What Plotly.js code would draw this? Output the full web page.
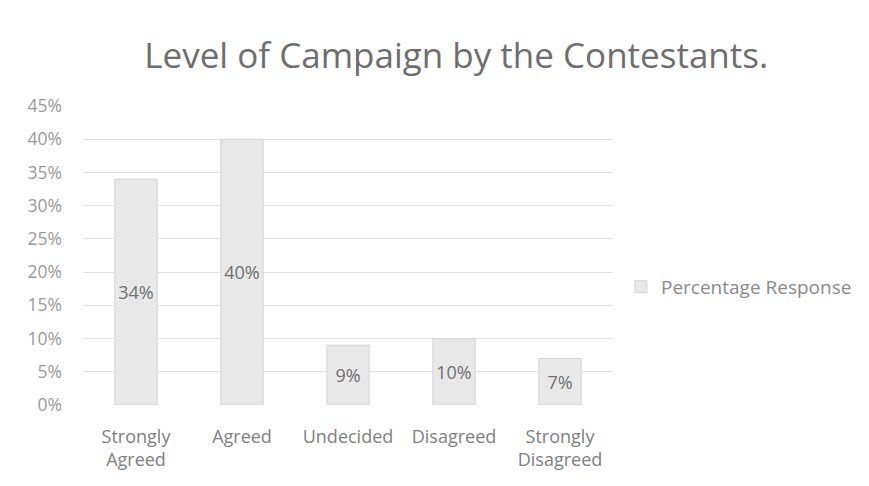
<!DOCTYPE html>
<html>
<head>
<meta charset="utf-8">
<script src="https://cdn.plot.ly/plotly-3.0.1.min.js"></script>
<style>html,body{margin:0;padding:0;background:#fff;}#chart{width:869px;height:486px;}</style>
</head>
<body>
<div id="chart"></div>
<script>
const categories = ["Strongly<br>Agreed", "Agreed", "Undecided", "Disagreed", "Strongly<br>Disagreed"];
const percentResponse = [34, 40, 9, 10, 7];
const valueLabels = ["34%", "40%", "9%", "10%", "7%"];
const seriesName = "Percentage Response";
const yTickVals = [0, 5, 10, 15, 20, 25, 30, 35, 40, 45];
const yTickText = ["0%", "5%", "10%", "15%", "20%", "25%", "30%", "35%", "40%", "45%"];

const trace = {
  type: "bar",
  x: categories,
  y: percentResponse,
  name: seriesName,
  text: valueLabels,
  textposition: "inside",
  insidetextanchor: "middle",
  textangle: 0,
  constraintext: "none",
  textfont: {family: "Open Sans, sans-serif", size: 18, color: "#707070"},
  marker: {color: "#e8e8e8", line: {color: "#d6d6d6", width: 1}},
  width: 0.4,
  showlegend: true
};

const layout = {
  width: 869, height: 486,
  margin: {l: 83, r: 256, t: 106, b: 81, autoexpand: false},
  paper_bgcolor: "#ffffff",
  plot_bgcolor: "#ffffff",
  font: {family: "Open Sans, sans-serif", color: "#8a8a8a", size: 16},
  title: {
    text: "Level of Campaign by the Contestants.",
    font: {family: "Open Sans, sans-serif", size: 35, color: "#6e6e6e"},
    x: 0.525, xanchor: "center", xref: "container",
    y: 0.885, yanchor: "middle", yref: "container"
  },
  xaxis: {
    type: "category",
    tickfont: {size: 18, color: "#808080"},
    showgrid: false, zeroline: false, showline: false,
    ticks: "",
    ticklabelstandoff: 19
  },
  yaxis: {
    range: [0, 45],
    tickvals: yTickVals,
    ticktext: yTickText,
    tickfont: {size: 17.5, color: "#9a9a9a"},
    showgrid: true, gridcolor: "#e2e2e2", gridwidth: 1,
    zeroline: false, showline: false, ticks: "",
    ticklabelstandoff: 20
  },
  showlegend: true,
  legend: {
    x: 1.015, xanchor: "left", y: 0.395, yanchor: "middle",
    font: {size: 19, color: "#8a8a8a"},
    itemwidth: 30
  },
  bargap: 0.6
};

Plotly.newPlot("chart", [trace], layout, {displayModeBar: false, staticPlot: true});
</script>
</body>
</html>
